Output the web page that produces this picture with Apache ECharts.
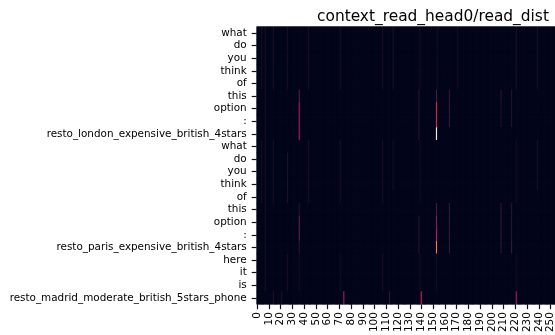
<!DOCTYPE html>
<html>
<head>
<meta charset="utf-8">
<script src="https://cdn.jsdelivr.net/npm/echarts@6/dist/echarts.min.js"></script>
<style>
  html, body { margin: 0; padding: 0; background: #fff; overflow: hidden; width: 555px; height: 335px; }
  #chart { width: 660px; height: 335px; }
</style>
</head>
<body>
<div id="chart"></div>
<script>
// Tokens read by the context head (rows, top to bottom)
const rowLabels = [
  'what', 'do', 'you', 'think', 'of', 'this', 'option', ':',
  'resto_london_expensive_british_4stars',
  'what', 'do', 'you', 'think', 'of', 'this', 'option', ':',
  'resto_paris_expensive_british_4stars',
  'here', 'it', 'is',
  'resto_madrid_moderate_british_5stars_phone'
];

// Number of memory slots (columns)
const slotCount = 296;
const slotLabels = Array.from({ length: slotCount }, (_, i) => String(i));

// Faint background streaks: [slot, firstRow, lastRow, weight]
const faintStreaks = [
  [4, 0, 4, 0.05], [7, 0, 8, 0.05], [14, 0, 4, 0.06], [26, 0, 4, 0.05],
  [44, 0, 4, 0.06], [71, 0, 4, 0.05], [107, 0, 4, 0.05], [116, 0, 4, 0.06],
  [139, 0, 4, 0.05], [154, 0, 4, 0.04], [171, 0, 4, 0.04], [221, 0, 4, 0.06],
  [239, 0, 4, 0.05],
  [4, 9, 13, 0.05], [7, 9, 17, 0.05], [14, 9, 13, 0.05], [26, 10, 13, 0.07],
  [44, 9, 13, 0.06], [71, 9, 13, 0.05], [107, 9, 13, 0.05], [116, 9, 12, 0.05],
  [139, 9, 13, 0.04], [221, 9, 13, 0.05], [239, 9, 12, 0.05],
  [7, 18, 20, 0.05], [26, 18, 20, 0.05], [36, 18, 20, 0.04], [71, 18, 20, 0.04],
  [107, 18, 20, 0.05], [139, 18, 20, 0.05], [153, 18, 20, 0.04], [221, 18, 20, 0.04]
];

// Strong reads: [slot, firstRow, lastRow, weight]
const strongReads = [
  [36, 5, 5, 0.2], [36, 6, 8, 0.42],
  [138, 5, 8, 0.1], [153, 5, 5, 0.18], [153, 6, 7, 0.52], [153, 8, 8, 1.0],
  [164, 5, 7, 0.12], [208, 5, 5, 0.1], [208, 6, 7, 0.07], [217, 5, 7, 0.08],
  [36, 14, 14, 0.08], [36, 15, 16, 0.22], [36, 17, 17, 0.1],
  [138, 15, 17, 0.1], [153, 14, 14, 0.18], [153, 15, 15, 0.32],
  [153, 16, 16, 0.45], [153, 17, 17, 0.72],
  [164, 14, 17, 0.12], [208, 14, 17, 0.12], [217, 14, 16, 0.1], [217, 17, 17, 0.14],
  [14, 21, 21, 0.07], [21, 21, 21, 0.07], [74, 21, 21, 0.4], [113, 21, 21, 0.12],
  [140, 21, 21, 0.48], [221, 21, 21, 0.4]
];

// Seaborn "rocket" colormap stops
const rocket = ['#03051a', '#35193e', '#701f57', '#ad1759', '#e13342', '#f37651', '#f6b48f', '#faebdd'];

// Build the grid of cells
const grid = [];
for (let r = 0; r < rowLabels.length; r++) {
  grid.push(new Array(slotCount).fill(0));
}
[faintStreaks, strongReads].forEach(list => {
  list.forEach(([c, r0, r1, v]) => {
    for (let r = r0; r <= r1; r++) grid[r][c] = v;
  });
});
const cells = [];
for (let r = 0; r < rowLabels.length; r++) {
  for (let c = 0; c < slotCount; c++) cells.push([c, r, grid[r][c]]);
}

const font = 'DejaVu Sans';
const colW = 1.173;
const gridLeft = 256.7;
const gridWidth = slotCount * colW;
const tickStyle = { color: '#111', width: 1.2 };
const everyTenth = (i) => i % 10 === 0;

const chart = echarts.init(document.getElementById('chart'), null, { renderer: 'canvas' });
chart.setOption({
  animation: false,
  backgroundColor: '#ffffff',
  title: {
    text: 'context_read_head0/read_dist',
    left: 312,
    top: 4,
    textStyle: { fontFamily: font, fontSize: 15.4, fontWeight: 'normal', color: '#000' }
  },
  grid: {
    left: gridLeft, top: 26.7, width: gridWidth, height: 279.3,
    show: true, backgroundColor: '#03051a', borderWidth: 0
  },
  xAxis: {
    type: 'category',
    data: slotLabels,
    axisLine: { show: false },
    splitLine: { show: false },
    axisTick: { show: true, alignWithLabel: true, length: 5, interval: everyTenth, lineStyle: tickStyle },
    axisLabel: {
      interval: everyTenth,
      rotate: 90, margin: 8,
      fontFamily: font, fontSize: 10.4, color: '#000'
    }
  },
  yAxis: {
    type: 'category',
    data: rowLabels,
    inverse: true,
    axisLine: { show: false },
    splitLine: { show: false },
    axisTick: { show: true, alignWithLabel: true, length: 5, interval: 0, lineStyle: tickStyle },
    axisLabel: { interval: 0, margin: 10, fontFamily: font, fontSize: 10.4, color: '#000' }
  },
  visualMap: {
    show: false, type: 'continuous', min: 0, max: 1, dimension: 2,
    inRange: { color: rocket }
  },
  series: [{
    type: 'heatmap',
    data: cells,
    progressive: 0,
    itemStyle: { borderWidth: 0 }
  }]
});
</script>
</body>
</html>
